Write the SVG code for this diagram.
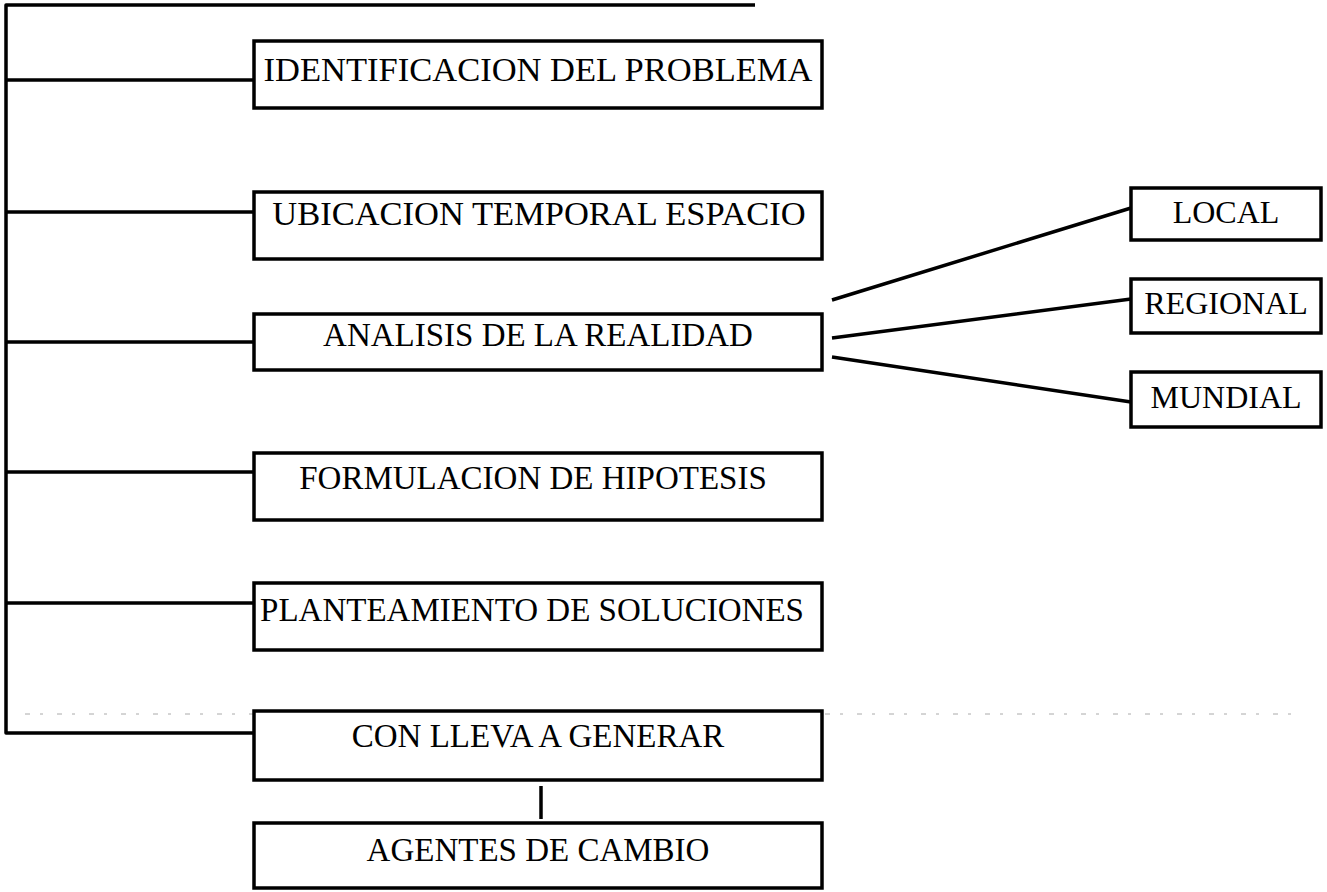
<svg xmlns="http://www.w3.org/2000/svg" width="1327" height="892" viewBox="0 0 1327 892">
<style>
.box{fill:#fff;stroke:#000;stroke-width:3.5}
.ln{fill:none;stroke:#000;stroke-width:3.5;stroke-linejoin:round}
.t{font-family:"Liberation Serif","Times New Roman",serif;font-size:33px;fill:#000;text-anchor:middle}
.tl{font-size:34.5px}
.ts{font-family:"Liberation Serif","Times New Roman",serif;font-size:32px;fill:#000;text-anchor:middle}
</style>
<rect width="1327" height="892" fill="#fff"/>
<g id="connectors">
<path class="ln" d="M755,5 H6 V733 H254"/>
<path class="ln" d="M6,80 H254 M6,212 H254 M6,342 H254 M6,472 H254 M6,603 H254"/>
<path class="ln" d="M832,300 L1131,208 M832,338 L1131,299 M832,357 L1131,402"/>
<path class="ln" d="M541,786 V819"/>
<path d="M25,714 H1300" stroke="#aaa" stroke-width="1" stroke-dasharray="5 10 3 14" fill="none"/>
</g>
<g id="n1"><rect class="box" x="254" y="41" width="568" height="67"/><text class="t tl" x="538" y="81">IDENTIFICACION DEL PROBLEMA</text></g>
<g id="n2"><rect class="box" x="254" y="192" width="568" height="67"/><text class="t tl" x="539" y="225">UBICACION TEMPORAL ESPACIO</text></g>
<g id="n3"><rect class="box" x="254" y="314" width="568" height="56"/><text class="t" x="538" y="346">ANALISIS DE LA REALIDAD</text></g>
<g id="n4"><rect class="box" x="254" y="453" width="568" height="67"/><text class="t" x="533" y="489">FORMULACION DE HIPOTESIS</text></g>
<g id="n5"><rect class="box" x="254" y="583" width="568" height="67"/><text class="t" x="532" y="621">PLANTEAMIENTO DE SOLUCIONES</text></g>
<g id="n6"><rect class="box" x="254" y="711" width="568" height="69"/><text class="t" x="538" y="747">CON LLEVA A GENERAR</text></g>
<g id="n7"><rect class="box" x="254" y="823" width="568" height="65"/><text class="t" x="538" y="861">AGENTES DE CAMBIO</text></g>
<g id="local"><rect class="box" x="1131" y="188" width="190" height="52"/><text class="ts" x="1226" y="223">LOCAL</text></g>
<g id="regional"><rect class="box" x="1131" y="279" width="190" height="54"/><text class="ts" x="1226" y="314">REGIONAL</text></g>
<g id="mundial"><rect class="box" x="1131" y="372" width="190" height="55"/><text class="ts" x="1226" y="408">MUNDIAL</text></g>
</svg>
